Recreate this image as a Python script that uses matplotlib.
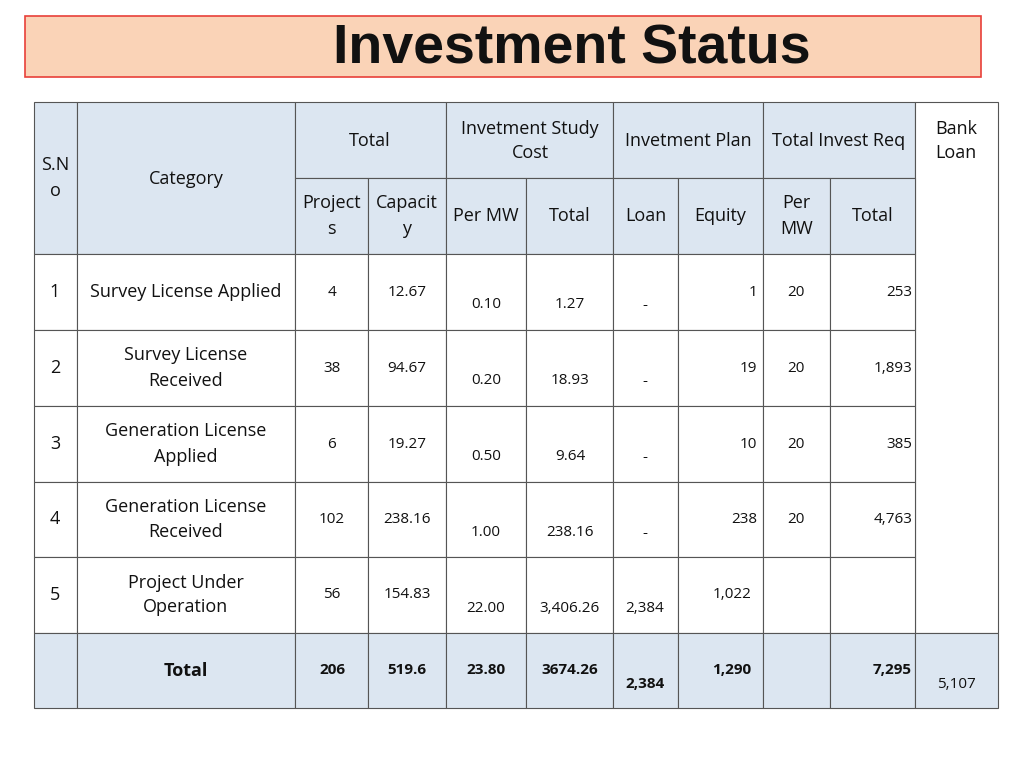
import matplotlib
matplotlib.use("Agg")
import matplotlib.pyplot as plt
from matplotlib.patches import Rectangle

sno = ["1", "2", "3", "4", "5"]
categories = ["Survey License Applied", "Survey License\nReceived", "Generation License\nApplied",
              "Generation License\nReceived", "Project Under\nOperation"]
projects = ["4", "38", "6", "102", "56"]
capacity = ["12.67", "94.67", "19.27", "238.16", "154.83"]
study_per_mw = ["0.10", "0.20", "0.50", "1.00", "22.00"]
study_total = ["1.27", "18.93", "9.64", "238.16", "3,406.26"]
plan_loan = ["-", "-", "-", "-", "2,384"]
plan_equity = ["1", "19", "10", "238", "1,022"]
req_per_mw = ["20", "20", "20", "20", ""]
req_total = ["253", "1,893", "385", "4,763", ""]
totals = ["206", "519.6", "23.80", "3674.26", "2,384", "1,290", "", "7,295"]
bank_loan_total = "5,107"

FONT = "Open Sans"
HDR = "#dce6f1"
fig = plt.figure(figsize=(10.24, 7.68), dpi=100)
ax = fig.add_axes([0, 0, 1, 1])
ax.set_xlim(0, 1024); ax.set_ylim(768, 0); ax.axis("off")

ax.add_patch(Rectangle((25, 16), 956, 61, facecolor="#fad3b7", edgecolor="#e8403a", lw=1.2))
ax.text(572, 49, "Investment Status", ha="center", va="center", fontsize=40,
        fontweight="bold", family="Liberation Sans", color="#111111")

xs = [34, 77, 295, 368, 446, 526, 613, 678, 763, 830, 915, 998]
ys = [102, 178, 254, 330, 406, 482, 557, 633, 708]

def cell(x0, y0, x1, y1, fc="white"):
    ax.add_patch(Rectangle((x0, y0), x1 - x0, y1 - y0, facecolor=fc, edgecolor="#555555", lw=0.8))

def t(x, y, s, size=13, ha="center", bold=False):
    ax.text(x, y, s, ha=ha, va="center", fontsize=size, family=FONT,
            fontweight="bold" if bold else "normal", color="#111111", linespacing=1.5)

# header
cell(xs[0], ys[0], xs[1], ys[2], HDR); t(55, 178, "S.N\no")
cell(xs[1], ys[0], xs[2], ys[2], HDR); t(186, 179, "Category")
cell(xs[2], ys[0], xs[4], ys[1], HDR); t(370, 141, "Total")
cell(xs[4], ys[0], xs[6], ys[1], HDR); t(530, 141, "Invetment Study\nCost")
cell(xs[6], ys[0], xs[8], ys[1], HDR); t(688, 141, "Invetment Plan")
cell(xs[8], ys[0], xs[10], ys[1], HDR); t(839, 141, "Total Invest Req")
cell(xs[10], ys[0], xs[11], ys[7]); t(956, 141, "Bank\nLoan")
subs = ["Project\ns", "Capacit\ny", "Per MW", "Total", "Loan", "Equity", "Per\nMW", "Total"]
for i, s in enumerate(subs):
    cell(xs[2 + i], ys[1], xs[3 + i], ys[2], HDR)
    t((xs[2 + i] + xs[3 + i]) / 2, 216, s)

for r in range(5):
    y0, y1 = ys[2 + r], ys[3 + r]
    mid, low = (y0 + y1) / 2, y0 + 51
    for c in range(10):
        cell(xs[c], y0, xs[c + 1], y1)
    t(55, mid, sno[r]); t(186, mid, categories[r])
    t(332, mid, projects[r], 11); t(407, mid, capacity[r], 11)
    t(486, low, study_per_mw[r], 11); t(570, low, study_total[r], 11)
    t(645, low, plan_loan[r], 11)
    if r < 4:
        t(757, mid, plan_equity[r], 11, ha="right")
    else:
        t(732, mid, plan_equity[r], 11)
    t(796, mid, req_per_mw[r], 11); t(912, mid, req_total[r], 11, ha="right")

# total row
y0, y1 = ys[7], ys[8]
mid, low = (y0 + y1) / 2, y0 + 51
for c in range(11):
    cell(xs[c], y0, xs[c + 1], y1, HDR)
t(186, mid, "Total", 13, bold=True)
cx = [332, 407, 486, 570, 645, 732, 796, 912]
for i, v in enumerate(totals):
    if i == 4:
        t(cx[i], low, v, 11, bold=True)
    elif i == 7:
        t(cx[i], mid, v, 11, ha="right", bold=True)
    else:
        t(cx[i], mid, v, 11, bold=True)
t(956, low, bank_loan_total, 11)

fig.savefig("out.png", dpi=100)
